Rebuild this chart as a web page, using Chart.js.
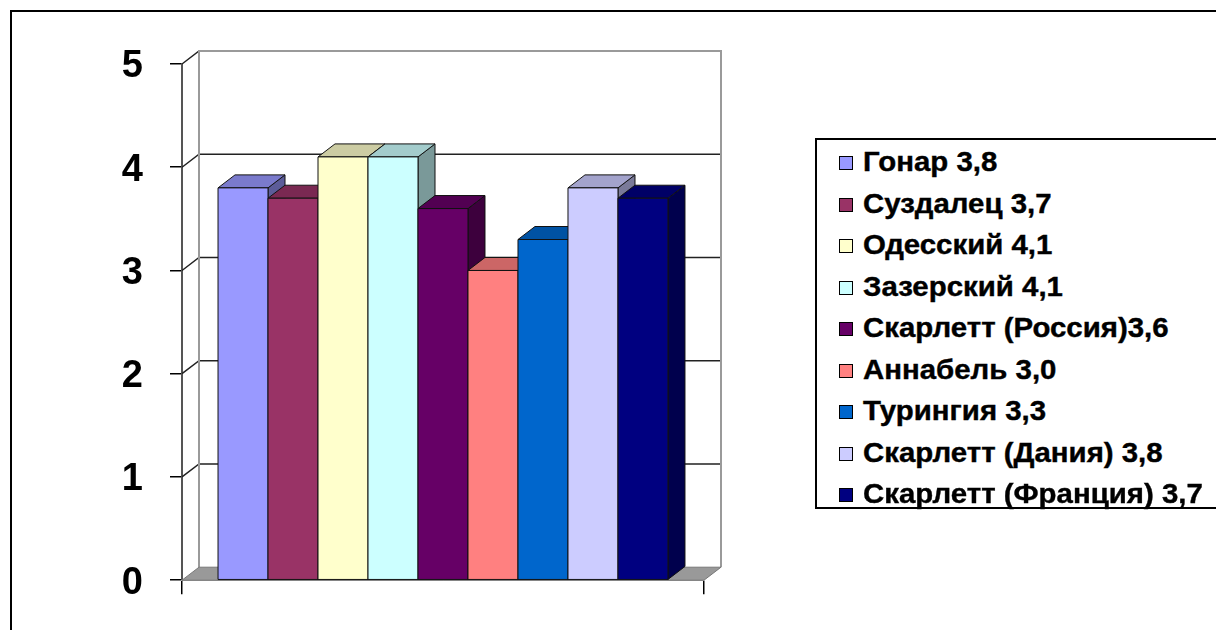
<!DOCTYPE html>
<html lang="ru">
<head>
<meta charset="utf-8">
<title>Урожайность сортов картофеля</title>
<script src="https://cdn.jsdelivr.net/npm/chart.js@4.4.1/dist/chart.umd.min.js"></script>
<style>
  html, body { margin: 0; padding: 0; background: #fff; }
  #wrap { position: relative; width: 1216px; height: 630px; overflow: hidden; }
  #chart { position: absolute; left: 0; top: 0; }
  #frame {
    position: absolute; left: 10px; top: 10px; width: 1240px; height: 660px;
    border: 2px solid #000; box-sizing: border-box; pointer-events: none;
  }
  #legend {
    position: absolute; left: 815px; top: 138px; width: 430px; height: 371px;
    border: 2px solid #000; box-sizing: border-box; background: #fff;
    font-family: "Liberation Sans", Arial, sans-serif; font-weight: bold;
    font-size: 28px; color: #000;
  }
  #legend .row {
    position: absolute; left: 22px; height: 40px; line-height: 40px;
    white-space: nowrap;
  }
  #legend .sw {
    display: inline-block; width: 12px; height: 12px; border: 1px solid #000;
    margin-right: 10px; vertical-align: 1px;
  }
  #legend .txt {
    display: inline-block; transform: scaleX(1.05); transform-origin: left center;
    -webkit-text-stroke: 0.4px #000;
  }
</style>
</head>
<body>
<div id="wrap">
  <canvas id="chart" width="1216" height="630"></canvas>
  <div id="frame"></div>
  <div id="legend"></div>
</div>
<script>
// Potato varieties and their yields
const categories = [''];
const varietyLabels = [
  'Гонар 3,8',
  'Суздалец 3,7',
  'Одесский 4,1',
  'Зазерский 4,1',
  'Скарлетт (Россия)3,6',
  'Аннабель 3,0',
  'Турингия 3,3',
  'Скарлетт (Дания) 3,8',
  'Скарлетт (Франция) 3,7'
];
const yields = [3.8, 3.7, 4.1, 4.1, 3.6, 3.0, 3.3, 3.8, 3.7];
const barColors = ['#9999FF', '#993366', '#FFFFCC', '#CCFFFF', '#660066',
                   '#FF8080', '#0066CC', '#CCCCFF', '#000080'];
const yTicks = [0, 1, 2, 3, 4, 5];

// depth offset of the 3D box (pixels to the right / up)
const DEPTH_X = 17;
const DEPTH_Y = 13;

function shade(hex, f) {
  const n = parseInt(hex.slice(1), 16);
  const r = Math.round(((n >> 16) & 255) * f);
  const g = Math.round(((n >> 8) & 255) * f);
  const b = Math.round((n & 255) * f);
  return `rgb(${r},${g},${b})`;
}

function poly(ctx, pts) {
  ctx.beginPath();
  ctx.moveTo(pts[0][0], pts[0][1]);
  for (let i = 1; i < pts.length; i++) ctx.lineTo(pts[i][0], pts[i][1]);
  ctx.closePath();
}

// Draws the walls, floor and the extruded columns in left-to-right order
const column3d = {
  id: 'column3d',
  beforeDatasetsDraw(chart) {
    const { ctx, chartArea: a, scales } = chart;
    const ys = scales.y;
    const dx = DEPTH_X, dy = DEPTH_Y;
    const L = a.left, R = a.right;
    const B = ys.getPixelForValue(yTicks[0]);
    const T = ys.getPixelForValue(yTicks[yTicks.length - 1]);
    ctx.save();

    // gridlines on the side and back walls
    ctx.strokeStyle = '#222';
    ctx.lineWidth = 1.5;
    yTicks.forEach(v => {
      if (v === yTicks[0]) return;
      const py = ys.getPixelForValue(v);
      ctx.beginPath();
      ctx.moveTo(L, py);
      ctx.lineTo(L + dx, py - dy);
      ctx.lineTo(R + dx, py - dy);
      ctx.stroke();
    });

    // back wall outline
    ctx.strokeStyle = '#9a9a9a';
    ctx.lineWidth = 2;
    ctx.beginPath();
    ctx.moveTo(L + dx, B - dy);
    ctx.lineTo(L + dx, T - dy);
    ctx.lineTo(R + dx, T - dy);
    ctx.lineTo(R + dx, B - dy);
    ctx.stroke();

    // floor
    poly(ctx, [[L, B], [R, B], [R + dx, B - dy], [L + dx, B - dy]]);
    ctx.fillStyle = '#999999';
    ctx.fill();
    ctx.strokeStyle = '#777';
    ctx.lineWidth = 1;
    ctx.stroke();

    // columns
    ctx.lineJoin = 'miter';
    chart.data.datasets.forEach((ds, i) => {
      const meta = chart.getDatasetMeta(i);
      meta.data.forEach(el => {
        const p = el.getProps(['x', 'y', 'width', 'base'], true);
        const x0 = p.x - p.width / 2, x1 = p.x + p.width / 2;
        const top = p.y, base = p.base;
        const c = ds.backgroundColor;
        ctx.lineWidth = 1;
        ctx.strokeStyle = '#111';
        // side face
        poly(ctx, [[x1, base], [x1, top], [x1 + dx, top - dy], [x1 + dx, base - dy]]);
        ctx.fillStyle = shade(c, 0.6);
        ctx.fill(); ctx.stroke();
        // top face
        poly(ctx, [[x0, top], [x1, top], [x1 + dx, top - dy], [x0 + dx, top - dy]]);
        ctx.fillStyle = shade(c, 0.8);
        ctx.fill(); ctx.stroke();
        // front face
        poly(ctx, [[x0, base], [x0, top], [x1, top], [x1, base]]);
        ctx.fillStyle = c;
        ctx.fill(); ctx.stroke();
      });
    });
    ctx.restore();
    return false;
  }
};

const datasets = varietyLabels.map((label, i) => ({
  label,
  data: [yields[i]],
  backgroundColor: barColors[i],
  borderColor: '#000',
  borderWidth: 1
}));

const chart = new Chart(document.getElementById('chart'), {
  type: 'bar',
  data: { labels: categories, datasets },
  options: {
    responsive: false,
    animation: false,
    devicePixelRatio: 1,
    layout: { padding: { left: 0, top: 64, right: 512, bottom: 0 } },
    datasets: { bar: { categoryPercentage: 0.862, barPercentage: 1 } },
    plugins: { legend: { display: false }, tooltip: { enabled: false } },
    scales: {
      x: {
        offset: true,
        afterFit(s) { s.height = 46; },
        ticks: { display: false },
        grid: {
          display: true, offset: true, drawOnChartArea: false, drawTicks: true,
          tickLength: 14, color: '#000', lineWidth: 1.5
        },
        border: { display: true, color: '#aaa', width: 1 }
      },
      y: {
        min: yTicks[0],
        max: yTicks[yTicks.length - 1],
        afterFit(s) { s.width = 182; },
        afterBuildTicks(s) { s.ticks = yTicks.map(v => ({ value: v })); },
        ticks: {
          padding: 27,
          labelOffset: 3,
          color: '#000',
          font: { family: '"Liberation Sans", Arial, sans-serif', size: 38, weight: 'bold' }
        },
        grid: {
          display: true, drawOnChartArea: false, drawTicks: true,
          tickLength: 12, color: '#000', lineWidth: 1.5
        },
        border: { display: true, color: '#555', width: 2 }
      }
    }
  },
  plugins: [column3d]
});

// legend built from the chart's datasets
const legend = document.getElementById('legend');
chart.data.datasets.forEach((ds, i) => {
  const row = document.createElement('div');
  row.className = 'row';
  row.style.top = (2 + i * 41.5) + 'px';
  const sw = document.createElement('span');
  sw.className = 'sw';
  sw.style.background = ds.backgroundColor;
  const txt = document.createElement('span');
  txt.className = 'txt';
  txt.textContent = ds.label;
  row.appendChild(sw);
  row.appendChild(txt);
  legend.appendChild(row);
});
</script>
</body>
</html>
